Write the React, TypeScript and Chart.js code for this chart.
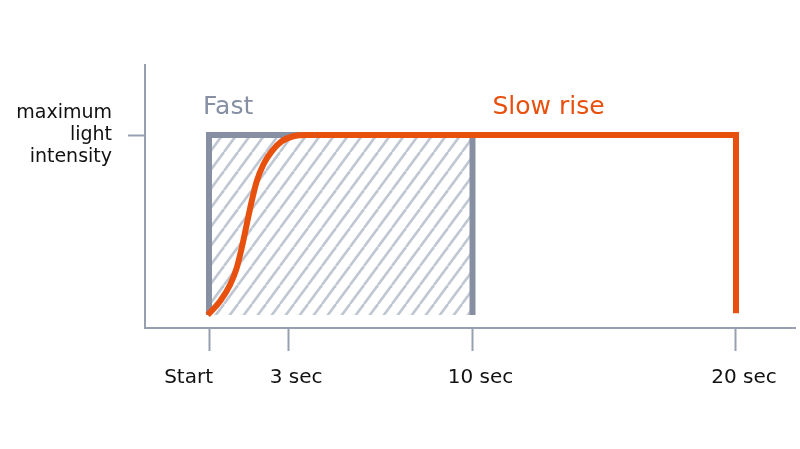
import React, { useEffect, useRef } from "react";
import { Chart, registerables } from "chart.js";

Chart.register(...registerables);

// ---- data ----
const xTickValues = [0, 3, 10, 20];
const xTickLabels = ["Start", "3 sec", "10 sec", "20 sec"];
const yTickValues = [1];
const yTickLabels = [["maximum", "light", "intensity"]];
const seriesNames = ["Fast", "Slow rise"];

const fastX = [0, 0, 10, 10];
const fastY = [0, 1, 1, 0];

const slowCurveX = [-0.05, 0.42, 0.8, 1.05, 1.24, 1.43, 1.62, 1.81, 2.06, 2.38, 2.76, 3.2, 3.71, 4.0];
const slowCurveY = [0, 0.076, 0.168, 0.261, 0.372, 0.502, 0.632, 0.743, 0.835, 0.909, 0.965, 0.993, 1, 1];

const slowHoldX = [4, 20, 20];
const slowHoldY = [1, 1, 0.01];

// ---- style ----
const AXIS = "#97a0b1";
const GRAY = "#8690a2";
const HATCH = "#c0c7d2";
const ORANGE = "#e8500e";
const FONT = '"DejaVu Sans", Verdana, sans-serif';

function makeHatch(): CanvasPattern | string {
  const w = 14;
  const h = 19;
  const c = document.createElement("canvas");
  c.width = w;
  c.height = h;
  const g = c.getContext("2d");
  if (!g) return HATCH;
  g.strokeStyle = HATCH;
  g.lineWidth = 2.6;
  for (let k = -1; k <= 1; k++) {
    g.beginPath();
    g.moveTo(k * w, h);
    g.lineTo(k * w + w, 0);
    g.stroke();
  }
  return g.createPattern(c, "repeat") || HATCH;
}

const toPts = (xs: number[], ys: number[]) => xs.map((x, i) => ({ x, y: ys[i] }));

const labelPlugin = {
  id: "customLabels",
  afterDraw(chart: any) {
    const ctx = chart.ctx;
    const xs = chart.scales.x;
    const ys = chart.scales.y;
    ctx.save();
    // x tick labels
    ctx.font = `20px ${FONT}`;
    ctx.fillStyle = "#111";
    ctx.textBaseline = "alphabetic";
    xTickValues.forEach((v, i) => {
      const px = xs.getPixelForValue(v);
      if (i === 0) {
        ctx.textAlign = "right";
        ctx.fillText(xTickLabels[i], px + 4, xs.top + 55);
      } else {
        ctx.textAlign = "center";
        ctx.fillText(xTickLabels[i], px + 8, xs.top + 55);
      }
    });
    // series names
    ctx.font = `25px ${FONT}`;
    ctx.textAlign = "left";
    const yTop = ys.getPixelForValue(1) - 21;
    ctx.fillStyle = GRAY;
    ctx.fillText(seriesNames[0], xs.getPixelForValue(fastX[0]) - 6, yTop);
    ctx.fillStyle = ORANGE;
    ctx.fillText(seriesNames[1], xs.getPixelForValue(fastX[3]) + 20, yTop);
    ctx.restore();
  },
};

export default function App() {
  const ref = useRef<HTMLCanvasElement | null>(null);

  useEffect(() => {
    if (!ref.current) return;
    const hatch = makeHatch();
    const chart = new Chart(ref.current, {
      type: "line",
      data: {
        datasets: [
          {
            label: seriesNames[1],
            data: toPts(slowCurveX, slowCurveY),
            borderColor: ORANGE,
            borderWidth: 6,
            cubicInterpolationMode: "monotone",
            pointRadius: 0,
            fill: false,
            borderCapStyle: "butt",
            order: 0,
          },
          {
            label: seriesNames[1],
            data: toPts(slowHoldX, slowHoldY),
            borderColor: ORANGE,
            borderWidth: 6,
            tension: 0,
            pointRadius: 0,
            fill: false,
            borderCapStyle: "butt",
            borderJoinStyle: "miter",
            order: 1,
          },
          {
            label: seriesNames[0],
            data: toPts(fastX, fastY),
            borderColor: GRAY,
            borderWidth: 6,
            backgroundColor: hatch as any,
            fill: "origin",
            tension: 0,
            pointRadius: 0,
            borderCapStyle: "butt",
            borderJoinStyle: "miter",
            order: 2,
          },
        ],
      },
      options: {
        animation: false,
        responsive: true,
        maintainAspectRatio: false,
        layout: { padding: { top: 65, right: 5, left: 0, bottom: 0 } },
        plugins: {
          legend: { display: false },
          tooltip: { enabled: false },
        },
        scales: {
          x: {
            type: "linear",
            min: -2.429,
            max: 22.24,
            afterBuildTicks: (s: any) => {
              s.ticks = xTickValues.map((v) => ({ value: v }));
            },
            afterFit: (s: any) => {
              s.height = 121;
            },
            grid: {
              display: true,
              drawOnChartArea: false,
              drawTicks: true,
              tickLength: 23,
              tickWidth: 2,
              tickColor: AXIS,
            },
            border: { display: true, color: AXIS, width: 2 },
            ticks: { display: false },
          },
          y: {
            type: "linear",
            min: -0.0722,
            max: 1.3889,
            afterBuildTicks: (s: any) => {
              s.ticks = yTickValues.map((v) => ({ value: v }));
            },
            afterFit: (s: any) => {
              s.width = 145;
            },
            grid: {
              display: true,
              drawOnChartArea: false,
              drawTicks: true,
              tickLength: 17,
              tickWidth: 2,
              tickColor: AXIS,
            },
            border: { display: true, color: AXIS, width: 2 },
            ticks: {
              display: true,
              padding: 16,
              color: "#111",
              font: { family: FONT, size: 19, lineHeight: 1.17 },
              callback: (_v: any, i: number) => yTickLabels[i] as any,
            },
          },
        },
      },
      plugins: [labelPlugin],
    });
    return () => chart.destroy();
  }, []);

  return (
    <div style={{ position: "fixed", left: 0, top: 0, width: 800, height: 449, background: "#fff" }}>
      <canvas ref={ref} />
    </div>
  );
}
